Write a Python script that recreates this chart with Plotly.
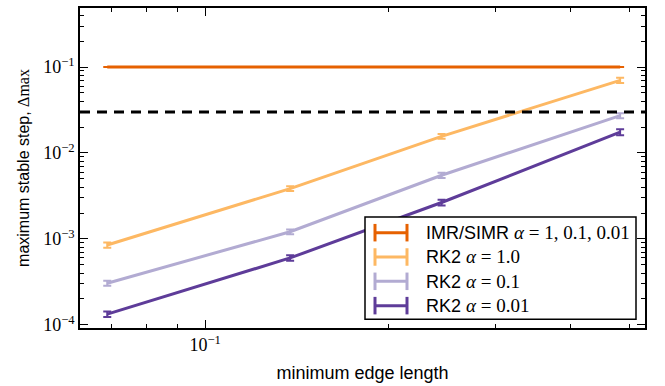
import plotly.graph_objects as go

# ---- data ----
edge_length = [0.069, 0.138, 0.245, 0.482]
imr_simr = [0.1, 0.1, 0.1, 0.1]
imr_err = [0.0, 0.0, 0.0, 0.0]
rk2_a1 = [8.5e-4, 3.85e-3, 1.56e-2, 0.070]
rk2_a1_err = [6e-5, 2.5e-4, 1.0e-3, 5e-3]
rk2_a01 = [3.05e-4, 1.21e-3, 5.5e-3, 0.0272]
rk2_a01_err = [2e-5, 8e-5, 4e-4, 1.8e-3]
rk2_a001 = [1.33e-4, 6.0e-4, 2.65e-3, 0.0175]
rk2_a001_err = [1e-5, 4.5e-5, 2e-4, 1.4e-3]
threshold = 0.03

names = ["IMR/SIMR", "RK2", "RK2", "RK2"]
alpha_labels = ["1, 0.1, 0.01", "1.0", "0.1", "0.01"]
colors = ["#e66101", "#fdb863", "#b2abd2", "#5e3c99"]
series = [(imr_simr, imr_err), (rk2_a1, rk2_a1_err), (rk2_a01, rk2_a01_err), (rk2_a001, rk2_a001_err)]

SERIF = "Liberation Serif"
SANS = "Liberation Sans"

fig = go.Figure()
for (vals, errs), c, n, a in zip(series, colors, names, alpha_labels):
    fig.add_trace(go.Scatter(
        x=edge_length, y=vals, mode="lines",
        line=dict(color=c, width=3),
        error_y=dict(type="data", array=errs, visible=True, color=c, thickness=2, width=4),
        name=f"{n} α = {a}", showlegend=False))

# dashed threshold line
fig.add_shape(type="line", xref="x domain", yref="y", x0=0, x1=1, y0=threshold, y1=threshold,
              line=dict(color="black", width=3, dash="10px,7px"))

# ---- manual legend (pixel positions -> paper) ----
L, R, T, B = 80, 645, 6, 335
def px(x):
    return (x - L) / (R - L)
def py(y):
    return (B - y) / (B - T)

fig.add_shape(type="rect", xref="paper", yref="paper", x0=px(365), x1=px(636), y0=py(326), y1=py(221),
              line=dict(color="black", width=1.5), fillcolor="white", layer="above")
row_y = [237, 262, 287, 312]
for yy, c, n, a in zip(row_y, colors, names, alpha_labels):
    fig.add_shape(type="line", xref="paper", yref="paper", x0=px(374), x1=px(408), y0=py(yy), y1=py(yy),
                  line=dict(color=c, width=3), layer="above")
    for xc in (375, 407):
        fig.add_shape(type="line", xref="paper", yref="paper", x0=px(xc), x1=px(xc), y0=py(yy - 9), y1=py(yy + 9),
                      line=dict(color=c, width=3), layer="above")
    fig.add_annotation(xref="paper", yref="paper", x=px(424), y=py(yy), xanchor="left", yanchor="middle",
                       showarrow=False,
                       text=f'{n} <span style="font-family:{SERIF};font-size:19px"><i>α</i> = {a}</span>',
                       font=dict(family=SANS, size=18, color="black"))

major_y = [1e-4, 1e-3, 1e-2, 1e-1]
major_y_text = ["10<sup>−4</sup>", "10<sup>−3</sup>", "10<sup>−2</sup>", "10<sup>−1</sup>"]
minor_y = [m * d for d in (1e-4, 1e-3, 1e-2, 1e-1) for m in range(2, 10)]
major_x = [0.1]
major_x_text = ["10<sup>−1</sup>"]
minor_x = [0.06, 0.07, 0.08, 0.09, 0.2, 0.3, 0.4, 0.5]

fig.update_xaxes(type="log", range=[-1.206, -0.276], showgrid=False, zeroline=False,
                 showline=True, linecolor="black", linewidth=1.5, mirror="ticks",
                 ticks="inside", ticklen=8, tickwidth=1.2, tickcolor="black",
                 tickmode="array", tickvals=major_x, ticktext=major_x_text,
                 tickfont=dict(family=SERIF, size=18, color="black"),
                 minor=dict(ticks="inside", ticklen=4, tickwidth=1, tickcolor="black",
                            tickmode="array", tickvals=minor_x, showgrid=False),
                 title=dict(text="minimum edge length", font=dict(family=SANS, size=18, color="black"),
                            standoff=12))
fig.update_yaxes(type="log", range=[-4.037, -0.313], showgrid=False, zeroline=False,
                 showline=True, linecolor="black", linewidth=1.5, mirror="ticks",
                 ticks="inside", ticklen=8, tickwidth=1.2, tickcolor="black",
                 tickmode="array", tickvals=major_y, ticktext=major_y_text,
                 tickfont=dict(family=SERIF, size=18, color="black"),
                 minor=dict(ticks="inside", ticklen=4, tickwidth=1, tickcolor="black",
                            tickmode="array", tickvals=minor_y, showgrid=False),
                 title=dict(text=f'maximum stable step, <span style="font-family:{SERIF}">Δmax</span>',
                            font=dict(family=SANS, size=16, color="black"), standoff=10))

fig.update_layout(width=665, height=386, margin=dict(l=L, r=665 - R, t=T, b=386 - B),
                  paper_bgcolor="white", plot_bgcolor="white", showlegend=False)

fig.write_html("out.html")
